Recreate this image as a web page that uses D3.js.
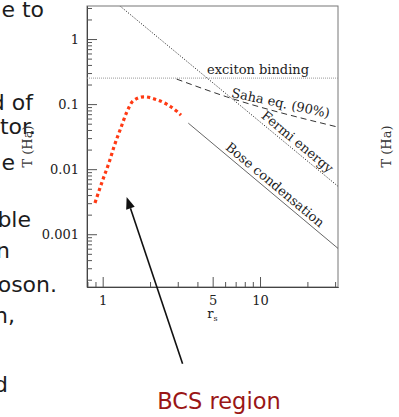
<!DOCTYPE html>
<html>
<head>
<meta charset="utf-8">
<script src="https://cdn.jsdelivr.net/npm/d3@7"></script>
<style>
  html, body { margin: 0; padding: 0; background: #fff; }
  svg { display: block; }
</style>
</head>
<body>
<svg width="399" height="417"></svg>
<script>
// curves of the phase diagram, r_s vs T (Ha)
const bcsRs = [0.894, 1.0, 1.096, 1.185, 1.301, 1.42, 1.564, 1.83, 2.18, 2.55, 2.95, 3.145];
const bcsT = [0.00303, 0.00678, 0.0125, 0.0228, 0.0423, 0.0745, 0.1124, 0.1295, 0.118, 0.100, 0.078, 0.0678];
const fermiRs = [1.2, 31.5];
const fermiT = [3.71, 0.00538];
const sahaRs = [2.95, 6.13, 30.7];
const sahaT = [0.2425, 0.1295, 0.0448];
const boseRs = [3.5, 31.5];
const boseT = [0.051, 0.000598];
const excitonRs = [0.795, 31.3];
const excitonT = [0.251, 0.251];

const xTickLabels = [1, 5, 10];
const xMinorTicks = [0.8, 0.9, 2, 3, 4, 6, 7, 8, 9, 20, 30];
const yTickLabels = [1, 0.1, 0.01, 0.001];
const yMinorTicks = [];
[1, 0.1, 0.01, 0.001, 0.0001].forEach(function(p) {
  [2, 3, 4, 5, 6, 7, 8, 9].forEach(function(m) { yMinorTicks.push(+(m * p).toPrecision(3)); });
});

// cut-off slide text on the left
const slideText = ['e to', 'd of', 'tor.', 'e', 'ble', 'n', 'oson.', 'n,', 'd'];

let svg = d3.select('svg');
let pLeft = 87, pRight = 338, pTop = 6, pBottom = 287;

let x = d3.scaleLog().domain([0.795, 31.3]).range([pLeft, pRight]);
let y = d3.scaleLog().domain([1.545e-4, 3.22]).range([pBottom, pTop]);

svg.append('rect').attr('width', 399).attr('height', 417).attr('fill', '#fff');

// slide text behind the chart
let slideX = [44, 33, 36, 15, 31, 10, 57, 15, 8];
let slideY = [17, 110, 134, 170, 227, 258, 292, 323, 392];
svg.append('g')
  .attr('font-family', 'DejaVu Sans')
  .attr('font-size', 22)
  .attr('fill', '#1c1c1c')
  .attr('text-anchor', 'end')
  .selectAll('text')
  .data(slideText)
  .enter().append('text')
  .attr('x', function(d, i) { return slideX[i]; })
  .attr('y', function(d, i) { return slideY[i]; })
  .text(function(d) { return d; });

svg.append('defs').append('clipPath').attr('id', 'plot')
  .append('rect')
  .attr('x', pLeft).attr('y', pTop)
  .attr('width', pRight - pLeft).attr('height', pBottom - pTop);

// frame
svg.append('rect')
  .attr('x', pLeft).attr('y', pTop)
  .attr('width', pRight - pLeft).attr('height', pBottom - pTop)
  .attr('fill', 'none')
  .attr('stroke', '#777')
  .attr('stroke-width', 1);

// axes (ticks point inwards)
let xAxis = svg.append('g').attr('transform', `translate(0,${pBottom})`);
xAxis.call(d3.axisBottom(x).tickValues(xTickLabels).tickSize(-10).tickSizeOuter(0).tickPadding(9)
  .tickFormat(function(d) { return String(d); }));
xAxis.append('g').call(d3.axisBottom(x).tickValues(xMinorTicks).tickSize(-5).tickSizeOuter(0).tickFormat(''));

let yAxis = svg.append('g').attr('transform', `translate(${pLeft},0)`);
yAxis.call(d3.axisLeft(y).tickValues(yTickLabels).tickSize(-10).tickSizeOuter(0).tickPadding(8)
  .tickFormat(function(d) { return String(d); }));
yAxis.append('g').call(d3.axisLeft(y).tickValues(yMinorTicks.filter(function(v) { return v > 1.545e-4 && v < 3.22; }))
  .tickSize(-5).tickSizeOuter(0).tickFormat(''));

svg.selectAll('.domain').attr('stroke', '#444');
svg.selectAll('.tick line').attr('stroke', '#555');
svg.selectAll('.tick text')
  .attr('font-family', 'DejaVu Serif')
  .attr('font-size', 13)
  .attr('fill', '#222');

// axis titles
let xTitle = svg.append('text')
  .attr('x', (pLeft + pRight) / 2)
  .attr('y', 318)
  .attr('text-anchor', 'middle')
  .attr('font-family', 'DejaVu Serif')
  .attr('font-size', 13)
  .attr('fill', '#222');
xTitle.append('tspan').text('r');
xTitle.append('tspan').attr('dy', 3).attr('font-size', 8).text('s');

[27, 386].forEach(function(cx) {
  svg.append('text')
    .attr('transform', `translate(${cx},${(pTop + pBottom) / 2}) rotate(-90)`)
    .attr('text-anchor', 'middle')
    .attr('dy', '0.35em')
    .attr('font-family', 'DejaVu Serif')
    .attr('font-size', 13)
    .attr('fill', '#333')
    .text('T (Ha)');
});

// curves
let plot = svg.append('g').attr('clip-path', 'url(#plot)');
let line = d3.line()
  .x(function(d) { return x(d[0]); })
  .y(function(d) { return y(d[1]); });
function pairs(rs, t) { return rs.map(function(r, i) { return [r, t[i]]; }); }

plot.append('path')
  .attr('d', line(pairs(excitonRs, excitonT)))
  .attr('fill', 'none').attr('stroke', '#999').attr('stroke-width', 1)
  .attr('stroke-dasharray', '1 1');

plot.append('path')
  .attr('d', line(pairs(fermiRs, fermiT)))
  .attr('fill', 'none').attr('stroke', '#333').attr('stroke-width', 1)
  .attr('stroke-dasharray', '1.2 1.6');

plot.append('path')
  .attr('d', line.curve(d3.curveMonotoneX)(pairs(sahaRs, sahaT)))
  .attr('fill', 'none').attr('stroke', '#333').attr('stroke-width', 1)
  .attr('stroke-dasharray', '6 4');

plot.append('path')
  .attr('d', line.curve(d3.curveLinear)(pairs(boseRs, boseT)))
  .attr('fill', 'none').attr('stroke', '#555').attr('stroke-width', 0.9);

plot.append('path')
  .attr('d', line.curve(d3.curveMonotoneX)(pairs(bcsRs, bcsT)))
  .attr('fill', 'none').attr('stroke', '#ff3a14').attr('stroke-width', 3.2)
  .attr('stroke-dasharray', '3.2 3');

// labels along the curves
function onLine(rs, t, r) {
  let i = d3.bisectLeft(rs, r);
  i = Math.max(1, Math.min(rs.length - 1, i));
  let f = (Math.log(r) - Math.log(rs[i - 1])) / (Math.log(rs[i]) - Math.log(rs[i - 1]));
  return Math.exp(Math.log(t[i - 1]) + f * (Math.log(t[i]) - Math.log(t[i - 1])));
}
function curveLabel(txt, rs, t, r, offset, angle) {
  let px = x(r), py = y(onLine(rs, t, r));
  if (angle === undefined) {
    let n = rs.length - 1;
    angle = Math.atan2(y(t[n]) - y(t[0]), x(rs[n]) - x(rs[0])) * 180 / Math.PI;
  }
  svg.append('text')
    .attr('transform', `translate(${px},${py}) rotate(${angle}) translate(0,${-offset})`)
    .attr('font-family', 'DejaVu Serif')
    .attr('font-size', 13)
    .attr('fill', '#222')
    .text(txt);
}
curveLabel('exciton binding', excitonRs, excitonT, 4.6, 4, 0);
curveLabel('Saha eq. (90%)', sahaRs, sahaT, 6.5, 1, 12);
curveLabel('Fermi energy', fermiRs, fermiT, 9.7, 4);
curveLabel('Bose condensation', boseRs, boseT, 5.75, 4);

// arrow pointing at the BCS region
let tail = [x(3.22), y(1.02e-5)], tip = [x(1.42), y(0.00375)];
let a = Math.atan2(tip[1] - tail[1], tip[0] - tail[0]);
let headLen = 12, headW = 4.5;
let base = [tip[0] - headLen * Math.cos(a), tip[1] - headLen * Math.sin(a)];
svg.append('line')
  .attr('x1', tail[0]).attr('y1', tail[1])
  .attr('x2', base[0]).attr('y2', base[1])
  .attr('stroke', '#111').attr('stroke-width', 1.6);
svg.append('path')
  .attr('d', 'M' + tip + 'L' + [base[0] + headW * Math.sin(a), base[1] - headW * Math.cos(a)] +
    'L' + [base[0] - headW * Math.sin(a), base[1] + headW * Math.cos(a)] + 'Z')
  .attr('fill', '#111');

svg.append('text')
  .attr('x', 219)
  .attr('y', 409)
  .attr('text-anchor', 'middle')
  .attr('font-family', 'DejaVu Sans')
  .attr('font-size', 22.5)
  .attr('fill', '#9a1616')
  .text('BCS region');
</script>
</body>
</html>
